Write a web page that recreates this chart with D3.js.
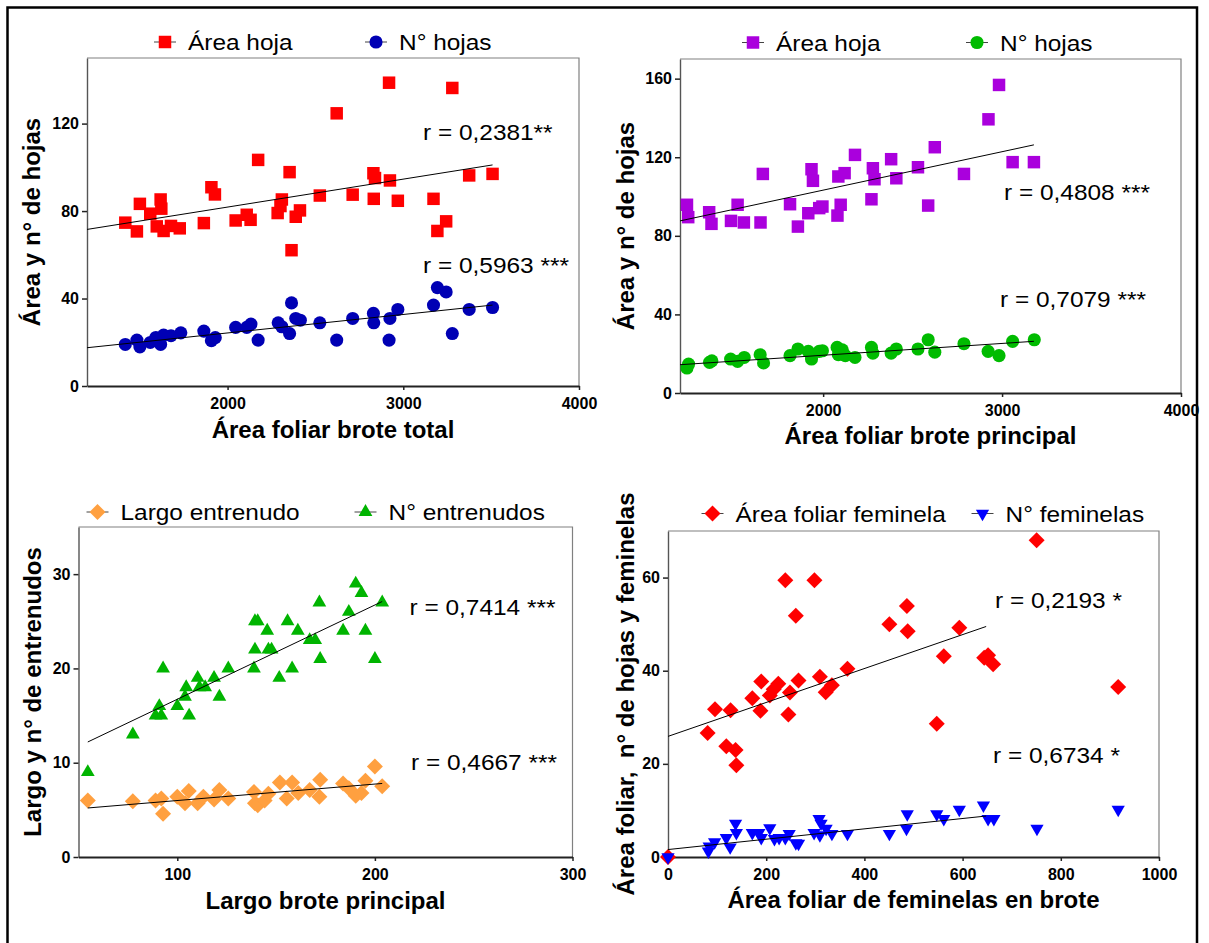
<!DOCTYPE html>
<html>
<head>
<meta charset="utf-8">
<script src="https://cdn.jsdelivr.net/npm/d3@7"></script>
<style>
body { margin: 0; background: #fff; }
text { font-family: "Liberation Sans", Arial, sans-serif; }
.tick text { font-weight: bold; font-size: 16px; fill: #000; }
.title { font-weight: bold; font-size: 24px; white-space: pre; }
.plain { font-size: 22px; }
</style>
</head>
<body>
<script>
// panel 1 - area foliar brote total
var p1AreaX = [1418,1484,1501,1560,1597,1619,1623,1636,1678,1728,1865,1908,1928,2046,2109,2131,2174,2285,2301,2309,2353,2364,2388,2412,2525,2621,2712,2830,2832,2839,2919,2924,2969,3172,3194,3244,3279,3375,3508];
var p1AreaY = [74.7,70.7,83.3,78.8,73.0,85.3,81.1,70.9,73.2,72.1,74.5,90.9,87.6,75.7,78.3,76.0,103.4,79.1,82.3,85.3,97.8,62.1,77.4,80.3,87.1,124.7,87.5,97.3,85.6,95.1,138.7,94.0,84.7,85.6,70.9,75.3,136.3,96.3,97.0];
var p1HojasX = [1418,1484,1501,1560,1592,1619,1636,1678,1734,1865,1908,1930,2046,2109,2133,2174,2288,2309,2353,2364,2388,2414,2525,2621,2712,2830,2832,2919,2924,2969,3172,3194,3244,3279,3375,3508];
var p1HojasY = [19.0,21.0,17.9,19.9,22.2,19.0,23.3,23.0,24.3,25.1,20.7,22.1,26.8,26.8,28.3,21.0,28.9,27.1,24.0,38.0,30.9,30.1,28.9,21.0,30.9,33.2,28.9,21.0,30.9,35.0,37.0,45.0,43.0,24.0,35.0,35.9];
var p1AreaFit = [[1200,71.6],[3508,101.1]];
var p1HojasFit = [[1200,17.5],[3508,37.0]];

// panel 2 - area foliar brote principal
var p2AreaX = [1239,1246,1363,1376,1485,1522,1557,1650,1663,1815,1859,1917,1935,1943,1978,1996,2080,2085,2098,2120,2178,2270,2278,2287,2380,2409,2530,2587,2624,2787,2924,2983,3059,3178];
var p2AreaY = [95.8,89.5,92.0,86.1,87.6,95.8,86.8,86.8,111.5,96.1,84.7,91.5,113.9,108.0,94.1,94.9,90.3,110.2,95.8,111.9,121.2,98.6,114.4,108.8,119.0,109.3,114.9,95.4,125.1,111.5,139.3,156.8,117.5,117.5];
var p2HojasX = [1239,1248,1365,1378,1483,1522,1559,1648,1667,1815,1859,1917,1935,1978,1996,2078,2085,2107,2124,2178,2270,2278,2380,2409,2530,2587,2624,2787,2922,2983,3059,3180];
var p2HojasY = [12.7,14.7,15.6,16.4,17.3,16.1,18.1,19.5,15.3,19.0,22.4,21.2,17.3,21.2,21.5,23.2,19.5,22.0,19.0,18.1,23.2,20.3,20.3,22.4,22.4,27.1,20.8,25.1,21.2,19.0,26.3,27.1];
var p2AreaFit = [[1200,87.6],[3178,126.3]];
var p2HojasFit = [[1200,14.4],[3178,26.3]];

// panel 3 - largo brote principal
var p3NX = [54.7,77.5,89.0,90.9,91.9,92.8,100,103.9,104.5,106,110.3,111.2,114.1,118.6,121.3,125.8,138.8,139.3,139.3,140.7,145.5,146.1,147.7,151.6,155.8,158.1,161,167,169.8,171.9,172.3,183.9,186.8,190.3,193.2,195.2,200,203.7];
var p3NY = [9,13,15,16,15,20,16,17,18,15,19,18,18,19,17,20,20,22,25,25,24,22,22,19,25,20,24,23,23,27,21,24,26,29,28,24,21,27];
var p3LX = [54.7,77.5,89.0,91.9,92.8,100,103.9,105.8,110.3,113.2,118.6,121.3,125.8,138.8,139.3,140.7,144.2,146.1,151.9,155.4,158.1,161.2,167,171.9,172.3,183.9,186.8,190.3,193.2,195.2,200,203.7];
var p3LY = [6.0,5.9,6.0,6.2,4.6,6.4,5.7,7.0,5.7,6.4,6.1,7.1,6.2,6.9,5.7,5.5,6.0,6.7,7.9,6.2,7.9,6.8,7.1,6.4,8.2,7.8,7.3,6.5,6.8,8.1,9.6,7.5];
var p3NFit = [[54.7,12.2],[203.7,27.1]];
var p3LFit = [[54.7,5.2],[203.7,7.8]];

// panel 4 - feminelas
var p4AreaX = [0,80.7,95.7,118.7,127.4,137.6,139.2,171.7,188.3,189.9,207.3,215.2,224.7,238.9,245.2,248.4,260.3,265.8,298.2,309.3,321.2,333.8,365.5,450.9,486.5,488.1,547.4,561.7,593.3,644,651.9,662.2,750.8,916.9];
var p4AreaY = [0,26.6,31.7,23.8,31.5,23.0,19.7,34.1,31.4,37.7,34.7,36.0,37.2,59.4,30.6,35.3,51.8,37.9,59.4,38.7,35.4,36.9,40.4,50.0,53.9,48.5,28.6,43.1,49.2,42.8,43.3,41.4,68.0,36.5];
var p4FemX = [0,82.3,83.9,94.9,118.7,126.6,137.6,139.2,171.7,185.1,189.9,207.3,216.8,226.3,238.9,246.8,260.3,265.8,297.5,307.7,309.3,311.7,322.0,333.8,365.5,450.9,485.7,487.3,547.4,561.7,593.3,642.4,651.9,663.7,751.5,916.9];
var p4FemY = [0,1.2,2.3,3.2,4.1,2.1,7.2,5.2,5.2,5.2,4.1,6.2,3.9,4.1,4.1,5.0,3.0,2.9,5.2,8.2,4.7,7.2,6.1,5.0,5.0,5.0,6.1,9.2,9.2,8.2,10.2,11.1,8.2,8.2,6.1,10.2];
var p4AreaFit = [[0,25.9],[648,49.5]];
var p4FemFit = [[0,1.6],[648,8.8]];

var width = 1209, height = 943;

var svg = d3.select("body").append("svg")
    .attr("width", width)
    .attr("height", height);

// outer frame
svg.append("rect")
    .attr("x", 7.5).attr("y", 7.5)
    .attr("width", 1189.5).attr("height", 980)
    .attr("fill", "none").attr("stroke", "#000").attr("stroke-width", 2.5);

var symbols = {
  square:   { type: d3.symbolSquare,   size: 156, rot: 0 },
  circle:   { type: d3.symbolCircle,   size: 135, rot: 0 },
  diamond:  { type: d3.symbolSquare,   size: 128, rot: 45 },
  triangle: { type: d3.symbolTriangle, size: 82,  rot: 0 },
  triDown:  { type: d3.symbolTriangle, size: 76,  rot: 180 }
};

function zip(xs, ys) {
  return xs.map(function(x, i) { return [x, ys[i]]; });
}

var panels = [
  { box: [87, 58, 579, 386], xDom: [1200, 4000], yDom: [0, 150],
    xTicks: [2000, 3000, 4000], yTicks: [0, 40, 80, 120],
    xTitle: "Área foliar brote total", xTitleY: 438,
    yTitle: "Área y n° de hojas", yTitleX: 40, legendY: 42,
    series: [
      { pts: zip(p1AreaX, p1AreaY), fit: p1AreaFit, sym: "square", color: "#ff0000",
        name: "Área hoja", lx: 165, r: "r = 0,2381**", rx: 423, ry: 140 },
      { pts: zip(p1HojasX, p1HojasY), fit: p1HojasFit, sym: "circle", color: "#0000b4",
        name: "N° hojas", lx: 376, r: "r = 0,5963 ***", rx: 423, ry: 273 }
    ] },
  { box: [680, 59, 1181, 393], xDom: [1200, 4000], yDom: [0, 170],
    xTicks: [2000, 3000, 4000], yTicks: [0, 40, 80, 120, 160],
    xTitle: "Área foliar brote principal", xTitleY: 444,
    yTitle: "Área y n° de hojas", yTitleX: 634, legendY: 42.5,
    series: [
      { pts: zip(p2AreaX, p2AreaY), fit: p2AreaFit, sym: "square", color: "#aa00dd",
        name: "Área hoja", lx: 753, r: "r = 0,4808 ***", rx: 1004, ry: 200 },
      { pts: zip(p2HojasX, p2HojasY), fit: p2HojasFit, sym: "circle", color: "#00bb00",
        name: "N° hojas", lx: 977, r: "r = 0,7079 ***", rx: 1000, ry: 307 }
    ] },
  { box: [78.5, 527, 572.5, 857], xDom: [50, 300], yDom: [0, 35],
    xTicks: [100, 200, 300], yTicks: [0, 10, 20, 30],
    xTitle: "Largo brote principal", xTitleY: 909,
    yTitle: "Largo y n° de entrenudos", yTitleX: 41, legendY: 512,
    series: [
      { pts: zip(p3LX, p3LY), fit: p3LFit, sym: "diamond", color: "#ffa040",
        name: "Largo entrenudo", lx: 97.5, r: "r = 0,4667 ***", rx: 411, ry: 770 },
      { pts: zip(p3NX, p3NY), fit: p3NFit, sym: "triangle", color: "#00b400",
        name: "N° entrenudos", lx: 365.5, r: "r = 0,7414 ***", rx: 409.5, ry: 615 }
    ] },
  { box: [668, 531, 1159, 857], xDom: [0, 1000], yDom: [0, 70],
    xTicks: [0, 200, 400, 600, 800, 1000], yTicks: [0, 20, 40, 60],
    xTitle: "Área foliar de feminelas en brote", xTitleY: 908,
    yTitle: "Área foliar,  n° de hojas y feminelas", yTitleX: 634, legendY: 513.5,
    series: [
      { pts: zip(p4AreaX, p4AreaY), fit: p4AreaFit, sym: "diamond", color: "#ff0000",
        name: "Área foliar feminela", lx: 712.5, r: "r = 0,2193 *", rx: 995, ry: 608 },
      { pts: zip(p4FemX, p4FemY), fit: p4FemFit, sym: "triDown", color: "#0000ff",
        name: "N° feminelas", lx: 982.5, r: "r = 0,6734 *", rx: 993, ry: 763 }
    ] }
];

function symPath(name) {
  var s = symbols[name];
  return d3.symbol().type(s.type).size(s.size)();
}

// regular text in the reference is a little wider than Arial
function wideText(g, x, y, str) {
  g.append("text")
    .attr("class", "plain")
    .attr("transform", "translate(" + x + "," + y + ") scale(1.11,1)")
    .text(str);
}

var fmt = d3.format("d");

panels.forEach(function(p) {
  var g = svg.append("g");
  var x = d3.scaleLinear().domain(p.xDom).range([p.box[0], p.box[2]]);
  var y = d3.scaleLinear().domain(p.yDom).range([p.box[3], p.box[1]]);

  // top and right frame
  g.append("path")
    .attr("d", "M" + p.box[0] + "," + p.box[1] + "H" + p.box[2] + "V" + p.box[3])
    .attr("fill", "none").attr("stroke", "#808080").attr("stroke-width", 1.2);

  var yAxis = g.append("g")
      .attr("transform", "translate(" + p.box[0] + ",0)")
      .call(d3.axisLeft(y).tickValues(p.yTicks).tickFormat(fmt)
        .tickSize(5).tickSizeOuter(0).tickPadding(3));
  yAxis.select(".domain").attr("stroke", "#555").attr("stroke-width", 1.4);
  yAxis.selectAll(".tick line").attr("stroke", "#222").attr("stroke-width", 1.5);

  var xAxis = g.append("g")
      .attr("transform", "translate(0," + p.box[3] + ")")
      .call(d3.axisBottom(x).tickValues(p.xTicks).tickFormat(fmt)
        .tickSize(4).tickSizeOuter(0).tickPadding(8));
  xAxis.select(".domain").attr("stroke", "#222").attr("stroke-width", 2);
  xAxis.selectAll(".tick line").attr("stroke", "#222").attr("stroke-width", 1.5);

  // axis titles
  g.append("text").attr("class", "title")
    .attr("x", (p.box[0] + p.box[2]) / 2).attr("y", p.xTitleY)
    .attr("text-anchor", "middle")
    .text(p.xTitle);
  g.append("text").attr("class", "title")
    .attr("transform", "translate(" + p.yTitleX + "," + ((p.box[1] + p.box[3]) / 2) + ") rotate(-90)")
    .attr("text-anchor", "middle")
    .text(p.yTitle);

  var line = d3.line().x(function(d) { return x(d[0]); }).y(function(d) { return y(d[1]); });

  p.series.forEach(function(s) {
    var rot = symbols[s.sym].rot;
    g.append("g").selectAll("path")
      .data(s.pts)
      .enter().append("path")
      .attr("d", symPath(s.sym))
      .attr("fill", s.color)
      .attr("transform", function(d) {
        return "translate(" + x(d[0]) + "," + y(d[1]) + ")" + (rot ? " rotate(" + rot + ")" : "");
      });
  });

  p.series.forEach(function(s) {
    g.append("path")
      .attr("d", line(s.fit))
      .attr("fill", "none").attr("stroke", "#000").attr("stroke-width", 1);
    wideText(g, s.rx, s.ry, s.r);

    // legend entry
    var rot = symbols[s.sym].rot;
    g.append("line")
      .attr("x1", s.lx - 11).attr("x2", s.lx + 11)
      .attr("y1", p.legendY).attr("y2", p.legendY)
      .attr("stroke", "#444").attr("stroke-width", 1);
    g.append("path")
      .attr("d", symPath(s.sym))
      .attr("fill", s.color)
      .attr("transform", "translate(" + s.lx + "," + p.legendY + ")" + (rot ? " rotate(" + rot + ")" : ""));
    wideText(g, s.lx + 23, p.legendY + 8, s.name);
  });
});
</script>
</body>
</html>
